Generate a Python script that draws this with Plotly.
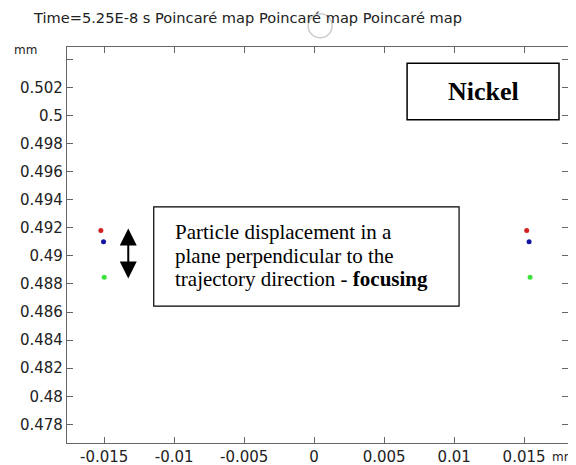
import plotly.graph_objects as go

# Data (mm)
x_red = [-0.01524, 0.01519]
y_red = [0.49180, 0.49180]
x_blue = [-0.01505, 0.01536]
y_blue = [0.49101, 0.49101]
x_green = [-0.01500, 0.01543]
y_green = [0.48847, 0.48847]

x_ticks = [-0.015, -0.01, -0.005, 0, 0.005, 0.01, 0.015]
x_ticktext = ["-0.015", "-0.01", "-0.005", "0", "0.005", "0.01", "0.015"]
y_ticks = [0.478, 0.48, 0.482, 0.484, 0.486, 0.488, 0.49, 0.492, 0.494,
           0.496, 0.498, 0.5, 0.502, 0.504]
y_ticktext = ["0.478", "0.48", "0.482", "0.484", "0.486", "0.488", "0.49",
              "0.492", "0.494", "0.496", "0.498", "0.5", "0.502", ""]

# page body has an 8px margin, so the figure is drawn 8px in from the corner
OFF = 8
W, H = 568, 457
PX0, PX1, PY0, PY1 = 66.7, 568.0, 47.3, 442.7   # plot area on screen
L = PX0 - OFF
R = W - (PX1 - OFF)
T = PY0 - OFF
B = H - (PY1 - OFF)
PW, PH = PX1 - PX0, PY1 - PY0


def px(x):
    return (x - PX0) / PW


def py(y):
    return (PY1 - y) / PH


fig = go.Figure()
for xs, ys, col in [(x_red, y_red, "#d02020"), (x_blue, y_blue, "#1414a4"),
                    (x_green, y_green, "#3ee03e")]:
    fig.add_trace(go.Scatter(x=xs, y=ys, mode="markers",
                             marker=dict(size=5, color=col), showlegend=False))

axis_common = dict(showgrid=False, zeroline=False, showline=True, linecolor="#666",
                   linewidth=1.3, mirror="ticks", ticks="inside", ticklen=6,
                   tickcolor="#666", tickwidth=1.3, automargin=False,
                   tickfont=dict(family="DejaVu Sans", size=15, color="#222"))

fig.update_xaxes(range=[-0.01766, 0.01814], tickvals=x_ticks, ticktext=x_ticktext,
                 **axis_common)
fig.update_yaxes(range=[0.47667, 0.50488], tickvals=y_ticks, ticktext=y_ticktext,
                 **axis_common)

shapes = [
    # Nickel box
    dict(type="rect", xref="paper", yref="paper", x0=px(407), x1=px(559),
         y0=py(120), y1=py(63.5), line=dict(color="black", width=1.5),
         fillcolor="white"),
    # description box
    dict(type="rect", xref="paper", yref="paper", x0=px(153.5), x1=px(459),
         y0=py(306), y1=py(207), line=dict(color="black", width=1.2),
         fillcolor="white"),
    # loading ring artifact
    dict(type="circle", xref="paper", yref="paper", x0=px(308), x1=px(332),
         y0=py(38), y1=py(14), line=dict(color="#cccccc", width=1.5)),
]

desc_lines = ["Particle displacement in a", "plane perpendicular to the",
              "trajectory direction - <b>focusing</b>"]
desc_y = [232.5, 255.5, 278.5]

annotations = [
    dict(text="Time=5.25E-8 s Poincaré map Poincaré map Poincaré map",
         xref="paper", yref="paper", x=px(31), y=py(18), xanchor="left",
         yanchor="middle", showarrow=False,
         font=dict(family="DejaVu Sans", size=14.6, color="#222")),
    dict(text="mm", xref="paper", yref="paper", x=px(12), y=py(50),
         xanchor="left", yanchor="middle", showarrow=False,
         font=dict(family="DejaVu Sans", size=12, color="#222")),
    dict(text="mm", xref="paper", yref="paper", x=px(550), y=py(457),
         xanchor="left", yanchor="middle", showarrow=False,
         font=dict(family="DejaVu Sans", size=12, color="#222")),
    dict(text="<b>Nickel</b>", xref="paper", yref="paper", x=px(483), y=py(92),
         xanchor="center", yanchor="middle", showarrow=False,
         font=dict(family="Liberation Serif", size=26, color="black")),
    # double-headed arrow
    dict(text="", xref="paper", yref="paper", x=px(128), y=py(228.5),
         axref="pixel", ayref="pixel", ax=0, ay=51.5, showarrow=True,
         arrowside="end+start", arrowhead=2, arrowsize=1.7, arrowwidth=2,
         arrowcolor="black"),
]
for txt, yy in zip(desc_lines, desc_y):
    annotations.append(dict(text=txt, xref="paper", yref="paper", x=px(173),
                            y=py(yy), xanchor="left", yanchor="middle",
                            align="left", showarrow=False,
                            font=dict(family="Liberation Serif", size=21,
                                      color="black")))

fig.update_layout(width=W, height=H, margin=dict(l=L, r=R, t=T, b=B),
                  paper_bgcolor="white", plot_bgcolor="white",
                  shapes=shapes, annotations=annotations)

fig.write_html("out.html")
